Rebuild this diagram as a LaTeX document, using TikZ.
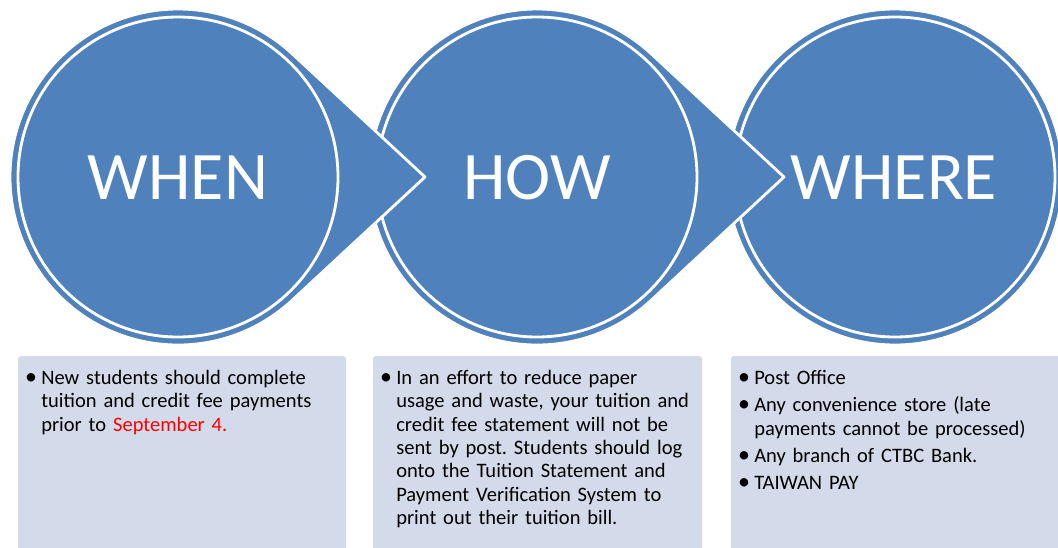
\documentclass[tikz,border=0pt]{standalone}
\usepackage{fontspec}
\setmainfont{Carlito}
\usetikzlibrary{calc}
\definecolor{circblue}{HTML}{4F81BD}
\definecolor{boxfill}{HTML}{D3DAE9}
\tikzset{
  blob/.style={fill=circblue,draw=white,line width=2pt,line join=round},
  ring/.style={draw=white,line width=2pt},
  heading/.style={text=white,anchor=base,inner sep=0pt,font=\fontsize{48.4}{58}\selectfont},
  infobox/.style={fill=boxfill,rounded corners=2pt},
  infotext/.style={anchor=north west,inner sep=0pt,text width=235pt,align=left,font=\fontsize{14.6}{16.6}\selectfont\frenchspacing}
}
\newcommand{\bul}{\leavevmode\llap{{\fontsize{17}{17}\selectfont\textbullet}\hspace{3pt}}}
\begin{document}
\begin{tikzpicture}[x=0.025cm,y=-0.025cm]
\pgfmathsetmacro{\rad}{168}
\useasboundingbox (0,0) rectangle (1058,547);
\clip (0,0) rectangle (1058,547);
%\draw (0,0) grid[step=50] (1058,547);
\draw[blob] (895,177) circle[radius=\rad];
\draw[ring] (895,177) circle[radius=160];
\foreach \cx in {537,178}{
  \draw[blob] (\cx+247,177) -- ($(\cx,177)+(47:\rad)$) arc[start angle=47,end angle=313,radius=\rad] -- cycle;
  \draw[ring] (\cx,177) circle[radius=160];
}
\node[heading] (when) at (178,199) {WHEN};
\node[heading] (how) at (537,199) {HOW};
\node[heading] (where) at (894,199) {WHERE};
\fill[infobox] (18,356) rectangle (346,560);
\fill[infobox] (373,356) rectangle (702,560);
\fill[infobox] (731,356) rectangle (1070,560);
\node[infotext] (whentext) at (41,370) {\bul New students should complete\\
tuition and credit fee payments\\
prior to \textcolor{red}{September 4.}};
\node[infotext] (howtext) at (396,370) {\bul In an effort to reduce paper\\
usage and waste, your tuition and\\
credit fee statement will not be\\
sent by post. Students should log\\
onto the Tuition Statement and\\
Payment Verification System to\\
print out their tuition bill.};
\node[infotext] (wheretext) at (754,370) {\bul Post Office\\[2.8pt]
\bul Any convenience store (late\\
payments cannot be processed)\\[2.8pt]
\bul Any branch of CTBC Bank.\\[2.8pt]
\bul TAIWAN PAY};
\end{tikzpicture}
\end{document}
